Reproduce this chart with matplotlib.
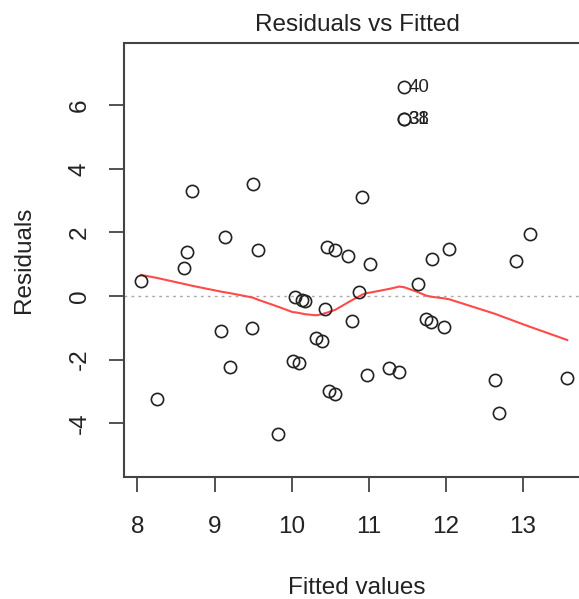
import numpy as np
import matplotlib
matplotlib.use("Agg")
import matplotlib.pyplot as plt

plt.rcParams['font.family'] = ['Liberation Sans', 'DejaVu Sans']

# fitted values and residuals of the model
fitted = [8.045, 8.25, 8.61, 8.64, 8.71, 9.09, 9.14, 9.20, 9.49, 9.50,
          9.57, 9.83, 10.02, 10.04, 10.10, 10.13, 10.17, 10.32, 10.40, 10.435,
          10.46, 10.49, 10.57, 10.57, 10.73, 10.79, 10.88, 10.92, 10.98, 11.02,
          11.27, 11.40, 11.465, 11.465, 11.465, 11.64, 11.75, 11.81, 11.83, 11.98,
          12.05, 12.64, 12.69, 12.91, 13.09, 13.58]
resid = [0.47, -3.25, 0.89, 1.37, 3.31, -1.09, 1.86, -2.22, -0.99, 3.52,
         1.45, -4.35, -2.04, -0.02, -2.10, -0.13, -0.17, -1.31, -1.40, -0.40,
         1.55, -2.99, 1.45, -3.08, 1.26, -0.79, 0.14, 3.10, -2.48, 1.00,
         -2.27, -2.38, 6.57, 5.56, 5.56, 0.37, -0.73, -0.81, 1.18, -0.96,
         1.47, -2.64, -3.69, 1.10, 1.94, -2.58]
# observation ids of the largest residuals
labels = {32: '40', 33: '38', 34: '31'}

xticks = [8, 9, 10, 11, 12, 13]
yticks = [-4, -2, 0, 2, 4, 6]


def lowess(x, y, f=2/3, iters=3):
    x = np.asarray(x, float)
    y = np.asarray(y, float)
    o = np.argsort(x, kind='stable')
    x, y = x[o], y[o]
    n = len(x)
    ns = max(min(int(f * n + 1e-7), n), 2)
    rw = np.ones(n)
    ys = np.zeros(n)
    for it in range(iters + 1):
        for i in range(n):
            d = np.abs(x - x[i])
            h = np.sort(d)[ns - 1]
            w = np.zeros(n)
            if h > 0:
                u = d / h
                w = np.where(u < 0.999, (1 - u ** 3) ** 3, 0.0)
                w[u <= 0.001] = 1.0
            else:
                w[d == 0] = 1.0
            w = w * rw
            sw = w.sum()
            xm = (w * x).sum() / sw
            ym = (w * y).sum() / sw
            sxx = (w * (x - xm) ** 2).sum()
            if sxx > 1e-12 * (x[-1] - x[0]) ** 2:
                b = (w * (x - xm) * (y - ym)).sum() / sxx
                ys[i] = ym + b * (x[i] - xm)
            else:
                ys[i] = ym
        if it == iters:
            break
        res = y - ys
        s = 6 * np.median(np.abs(res))
        if s == 0:
            break
        b = np.clip(res / s, -1, 1)
        rw = (1 - b ** 2) ** 2
    return x, ys


fig = plt.figure(figsize=(5.79, 5.99), dpi=100)
ax = fig.add_axes([0.2142, 0.2037, 0.805, 0.7245])

ax.axhline(0, color='#aaaaaa', lw=1, ls=(0, (2, 3)), zorder=1)
ax.plot(fitted, resid, 'o', mfc='none', mec='#222222', ms=8.8, mew=1.2, zorder=3)
sx, sy = lowess(fitted, resid)
ax.plot(sx, sy, color='#ff4a4a', lw=1.5, zorder=2)

for i, lab in labels.items():
    ax.annotate(lab, (fitted[i], resid[i]), xytext=(3, 0), textcoords='offset points',
                ha='left', va='center', fontsize=13.5, color='#222222')

ax.set_xlim(7.825, 13.877)
ax.set_ylim(-5.69, 7.956)
ax.set_xticks(xticks)
ax.set_yticks(yticks)
ax.set_xticklabels([str(v) for v in xticks])
ax.set_yticklabels([str(v) for v in yticks], rotation=90, va='center')
ax.tick_params(direction='out', length=11, width=1.3, colors='#444444',
               labelsize=17.5, labelcolor='#222222')
ax.tick_params(axis='x', pad=17)
ax.tick_params(axis='y', pad=13)
for sp in ax.spines.values():
    sp.set_color('#444444')
    sp.set_linewidth(1.5)

ax.set_title('Residuals vs Fitted', fontsize=17.5, color='#222222', pad=9)
ax.set_xlabel('Fitted values', fontsize=17.5, color='#222222', labelpad=28)
ax.set_ylabel('Residuals', fontsize=17.5, color='#222222', labelpad=24)

fig.savefig('out.png', dpi=100, facecolor='white')
